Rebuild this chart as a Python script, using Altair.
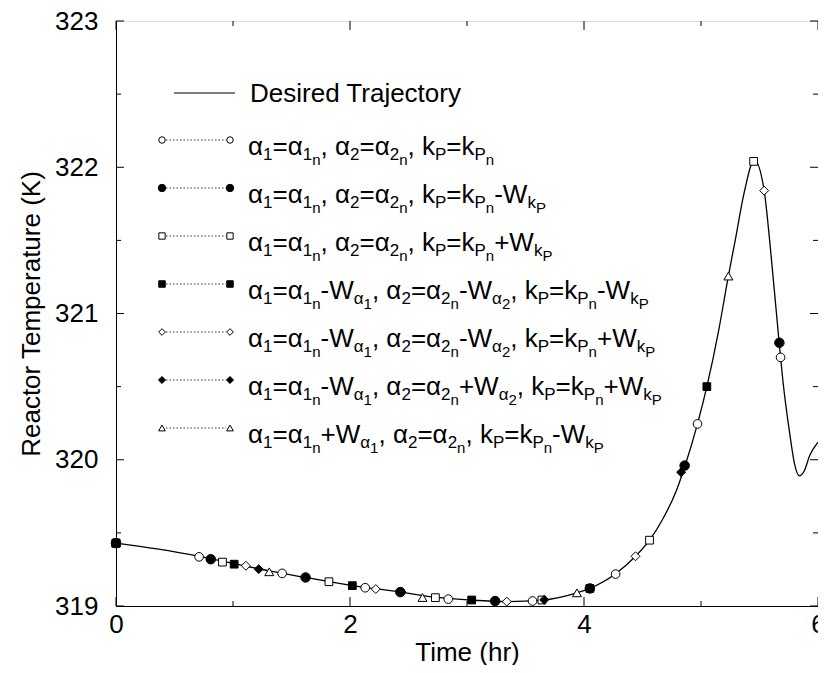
import altair as alt
import pandas as pd

# ---------------- data ----------------
curve_t = [0.0, 0.35, 0.71, 1.01, 1.31, 1.62, 2.02, 2.43, 2.73, 3.04, 3.34, 3.64,
           3.94, 4.05, 4.27, 4.44, 4.56, 4.67, 4.79, 4.86, 4.97, 5.05, 5.15, 5.234,
           5.29, 5.37, 5.455, 5.54, 5.588, 5.668, 5.70, 5.76, 5.80, 5.84, 5.88, 5.93, 6.0]
curve_T = [319.43, 319.39, 319.34, 319.29, 319.24, 319.195, 319.14, 319.095, 319.06, 319.04, 319.03, 319.04,
           319.09, 319.12, 319.22, 319.34, 319.45, 319.59, 319.79, 319.95, 320.245, 320.50, 320.88, 321.256,
           321.49, 321.83, 322.05, 321.84, 321.49, 320.80, 320.54, 320.17, 319.97, 319.89, 319.92, 320.03, 320.12]

s1_t = [0.0, 0.71, 1.42, 2.13, 2.84, 3.56, 4.27, 4.97, 5.68]
s1_T = [319.43, 319.336, 319.223, 319.125, 319.047, 319.034, 319.218, 320.245, 320.70]
s2_t = [0.0, 0.81, 1.62, 2.43, 3.24, 4.05, 4.86, 5.67]
s2_T = [319.43, 319.32, 319.195, 319.095, 319.034, 319.12, 319.96, 320.80]
s3_t = [0.0, 0.91, 1.82, 2.73, 3.64, 4.56, 5.45]
s3_T = [319.43, 319.30, 319.166, 319.057, 319.041, 319.45, 322.04]
s4_t = [0.0, 1.01, 2.02, 3.04, 4.05, 5.05]
s4_T = [319.43, 319.286, 319.139, 319.041, 319.12, 320.50]
s5_t = [0.0, 1.11, 2.22, 3.34, 4.44, 5.54]
s5_T = [319.43, 319.275, 319.116, 319.03, 319.34, 321.84]
s6_t = [0.0, 1.22, 2.44, 3.66, 4.83]
s6_T = [319.43, 319.252, 319.095, 319.042, 319.915]
s7_t = [0.0, 1.31, 2.62, 3.94, 5.234]
s7_T = [319.43, 319.234, 319.058, 319.09, 321.256]

x_major = [0, 2, 4, 6]
x_minor = [1, 3, 5]
y_major = [319, 320, 321, 322, 323]
y_minor = [319.5, 320.5, 321.5, 322.5]

# legend labels as (text, level) tokens: level 0 normal, 1 subscript, 2 sub-subscript
A1 = [("α", 0), ("1", 1), ("=α", 0), ("1", 1), ("n", 2)]
A2 = [(", α", 0), ("2", 1), ("=α", 0), ("2", 1), ("n", 2)]
KP = [(", k", 0), ("P", 1), ("=k", 0), ("P", 1), ("n", 2)]
def W(sign, a, b):
    return [(sign + "W", 0), (a, 1), (b, 2)]
legend_tokens = [
    A1 + A2 + KP,
    A1 + A2 + KP + W("-", "k", "P"),
    A1 + A2 + KP + W("+", "k", "P"),
    A1 + W("-", "α", "1") + A2 + W("-", "α", "2") + KP + W("-", "k", "P"),
    A1 + W("-", "α", "1") + A2 + W("-", "α", "2") + KP + W("+", "k", "P"),
    A1 + W("-", "α", "1") + A2 + W("+", "α", "2") + KP + W("+", "k", "P"),
    A1 + W("+", "α", "1") + A2 + KP + W("-", "k", "P"),
]

# ---------------- styles ----------------
FONT = "Liberation Sans"
W_PLOT, H_PLOT = 702, 585
series = [
    (s1_t, s1_T, "circle", "white", 75, 42),
    (s3_t, s3_T, "square", "white", 60, 40),
    (s5_t, s5_T, "diamond", "white", 80, 45),
    (s7_t, s7_T, "triangle-up", "white", 80, 45),
    (s2_t, s2_T, "circle", "black", 90, 55),
    (s4_t, s4_T, "square", "black", 60, 42),
    (s6_t, s6_T, "diamond", "black", 80, 50),
]
legend_order = [0, 4, 1, 5, 2, 6, 3]  # rows: o, ●, □, ■, ◇, ◆, △

rows = []
for i, (ts, Ts, shp, fill, sz, lsz) in enumerate(series):
    for t, T in zip(ts, Ts):
        rows.append({"t": t, "T": T, "shape": shp, "fill": fill, "sz": sz, "o": i})
pts = pd.DataFrame(rows)

xs = alt.Scale(domain=[0, 6], nice=False, zero=False)
ys = alt.Scale(domain=[319, 323], nice=False, zero=False)
x_axis = alt.Axis(values=x_major, format="d", title="Time (hr)", grid=False, ticks=False,
                  labelFlush=False, labelFontSize=26, titleFontSize=26, labelFont=FONT,
                  titleFont=FONT, titleFontWeight="normal", labelPadding=5, titlePadding=2,
                  domainColor="black", labelColor="black", titleColor="black")
y_axis = alt.Axis(values=y_major, format="d", title="Reactor Temperature (K)", grid=False,
                  ticks=False, labelFontSize=26, titleFontSize=26, labelFont=FONT,
                  titleFont=FONT, titleFontWeight="normal", labelPadding=18, titlePadding=10,
                  domainColor="black", labelColor="black", titleColor="black")

def X(f="t"):
    return alt.X(f"{f}:Q", scale=xs, axis=x_axis, title="Time (hr)")

def Y(f="T"):
    return alt.Y(f"{f}:Q", scale=ys, axis=y_axis, title="Reactor Temperature (K)")

curve = alt.Chart(pd.DataFrame({"t": curve_t, "T": curve_T})).mark_line(
    color="black", strokeWidth=1.3, interpolate="monotone"
).encode(x=X(), y=Y())

markers = alt.Chart(pts).mark_point(filled=True, stroke="black", strokeWidth=1, opacity=1).encode(
    x=X(), y=Y(),
    shape=alt.Shape("shape:N", scale=None),
    fill=alt.Fill("fill:N", scale=None),
    size=alt.Size("sz:Q", scale=None),
    order=alt.Order("o:Q"),
)

def xticks(vals, length, top):
    d = pd.DataFrame({"t": vals})
    y0, y1 = (0, length) if top else (H_PLOT, H_PLOT - length)
    return alt.Chart(d).mark_rule(color="black", strokeWidth=1).encode(
        x=X(), y=alt.value(y0), y2=alt.value(y1))

def yticks(vals, length, right):
    d = pd.DataFrame({"T": vals})
    x0, x1 = (W_PLOT, W_PLOT - length) if right else (0, length)
    return alt.Chart(d).mark_rule(color="black", strokeWidth=1).encode(
        y=Y(), x=alt.value(x0), x2=alt.value(x1))

ticks = [xticks(x_major, 9, False), xticks(x_minor, 5, False), xticks(x_major, 9, True), xticks(x_minor, 5, True),
         yticks(y_major, 8, False), yticks(y_minor, 5, False), yticks(y_major, 8, True), yticks(y_minor, 5, True)]

# ---------------- legend (layout in pixels) ----------------
CW = {" ": 0.278, ",": 0.278, "-": 0.333, "+": 0.584, "=": 0.584, "1": 0.556, "2": 0.556,
      "k": 0.5, "n": 0.556, "P": 0.667, "W": 0.944, "α": 0.579}
LSIZE = {0: 26, 1: 17, 2: 15}
LDY = {0: 0, 1: 5, 2: 10}
TX0 = 132
ROW0, ROWSTEP = 119, 48

txt_rows, sym_rows, dash_rows = [], [], []
for r, toks in enumerate(legend_tokens):
    ym = ROW0 + ROWSTEP * r
    base = ym + 15
    x = TX0
    for s, lv in toks:
        txt_rows.append({"x": x, "y": base + LDY[lv], "s": s, "fs": LSIZE[lv]})
        x += sum(CW[c] for c in s) * LSIZE[lv]
    idx = legend_order[r]
    _, _, shp, fill, _, lsz = series[idx]
    for xx in (46, 114):
        sym_rows.append({"x": xx, "y": ym, "shape": shp, "fill": fill, "sz": lsz})
    dash_rows.append({"x": 50, "x2": 110, "y": ym})
txt_rows.append({"x": 134, "y": 81, "s": "Desired Trajectory", "fs": 26})

leg_text = alt.Chart(pd.DataFrame(txt_rows)).mark_text(
    align="left", baseline="alphabetic", font=FONT, color="black"
).encode(x=alt.X("x:Q", scale=None), y=alt.Y("y:Q", scale=None),
         text="s:N", size=alt.Size("fs:Q", scale=None))

leg_dash = alt.Chart(pd.DataFrame(dash_rows)).mark_rule(
    color="black", strokeWidth=0.8, strokeDash=[1.5, 2]
).encode(x=alt.X("x:Q", scale=None), x2="x2:Q", y=alt.Y("y:Q", scale=None))

leg_line = alt.Chart(pd.DataFrame({"x": [58], "x2": [119], "y": [72]})).mark_rule(
    color="black", strokeWidth=1.2
).encode(x=alt.X("x:Q", scale=None), x2="x2:Q", y=alt.Y("y:Q", scale=None))

leg_sym = alt.Chart(pd.DataFrame(sym_rows)).mark_point(filled=True, stroke="black", strokeWidth=1, opacity=1).encode(
    x=alt.X("x:Q", scale=None), y=alt.Y("y:Q", scale=None),
    shape=alt.Shape("shape:N", scale=None), fill=alt.Fill("fill:N", scale=None),
    size=alt.Size("sz:Q", scale=None))

chart = alt.layer(curve, *ticks, markers, leg_line, leg_dash, leg_sym, leg_text).properties(
    width=W_PLOT, height=H_PLOT, autosize="none",
    padding={"left": 108, "top": 13, "right": 0, "bottom": 59},
).configure_view(stroke="black", strokeWidth=1).configure(background="white")

chart.save("out.html", embed_options={"renderer": "svg", "actions": False})
